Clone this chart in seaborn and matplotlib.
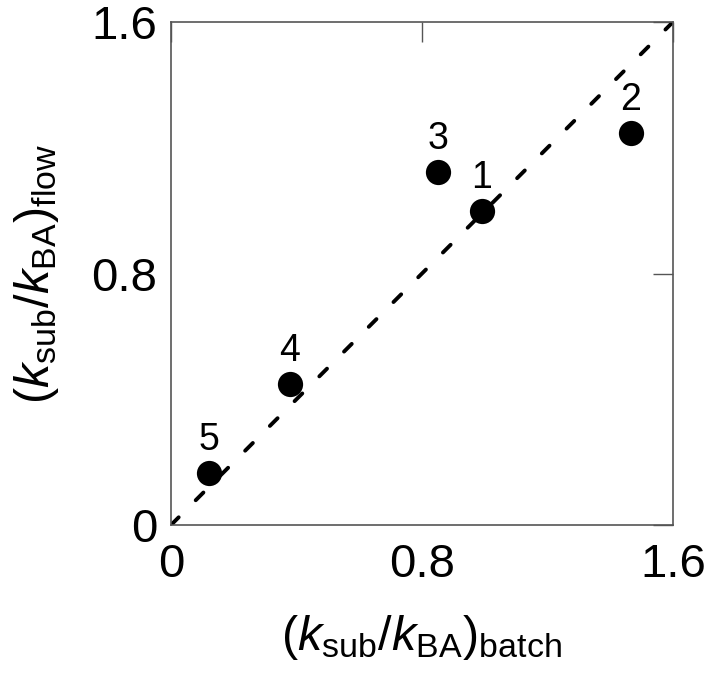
import numpy as np
import pandas as pd
import matplotlib
matplotlib.use('Agg')
import matplotlib.pyplot as plt
import seaborn as sns

# values
labels = ['1', '2', '3', '4', '5']
k_batch = [0.99, 1.466, 0.851, 0.379, 0.121]
k_flow = [1.0, 1.247, 1.123, 0.448, 0.165]
diag = [0.0, 1.6]
ticks = [0, 0.8, 1.6]
tick_labels = ['0', '0.8', '1.6']

sns.set_style('white')
plt.rcParams['font.family'] = ['Liberation Sans', 'DejaVu Sans']
plt.rcParams['mathtext.fontset'] = 'custom'
plt.rcParams['mathtext.rm'] = 'Liberation Sans'
plt.rcParams['mathtext.it'] = 'Liberation Sans:italic'
plt.rcParams['text.color'] = 'black'
plt.rcParams['axes.labelcolor'] = 'black'
plt.rcParams['xtick.color'] = 'black'
plt.rcParams['ytick.color'] = 'black'

data = pd.DataFrame({'batch': k_batch, 'flow': k_flow, 'label': labels})
line = pd.DataFrame({'x': diag, 'y': diag})

fig = plt.figure(figsize=(7.08, 6.77), dpi=100)
ax = fig.add_axes([0.2415, 0.2245, 0.709, 0.743])

sns.lineplot(data=line, x='x', y='y', color='black', linewidth=2.8,
             ax=ax, linestyle=(0, (2.8, 6.2)), dash_capstyle='round')
sns.scatterplot(data=data, x='batch', y='flow', color='black', s=330,
                edgecolor='black', linewidth=0, ax=ax, zorder=3)

for _, r in data.iterrows():
    ax.annotate(r['label'], (r['batch'], r['flow']), xytext=(0, 16.5),
                textcoords='offset points', ha='center', va='baseline',
                fontsize=27)

ax.set_xlim(0, 1.6)
ax.set_ylim(0, 1.6)
ax.set_xticks(ticks)
ax.set_xticklabels(tick_labels)
ax.set_yticks(ticks)
ax.set_yticklabels(tick_labels)
ax.tick_params(direction='in', length=14.4, width=1, color='#555555',
               labelsize=34, top=True, right=True)
ax.tick_params(axis='x', pad=13)
ax.tick_params(axis='y', pad=10)
for sp in ax.spines.values():
    sp.set_color('#555555')
    sp.set_linewidth(1.2)

ax.set_xlabel(r'$(\mathit{k}_{\mathrm{sub}}/\mathit{k}_{\mathrm{BA}})_{\mathrm{batch}}$',
              fontsize=35, labelpad=19)
ax.set_ylabel(r'$(\mathit{k}_{\mathrm{sub}}/\mathit{k}_{\mathrm{BA}})_{\mathrm{flow}}$',
              fontsize=35, labelpad=22)

fig.savefig('out.png', dpi=100)
